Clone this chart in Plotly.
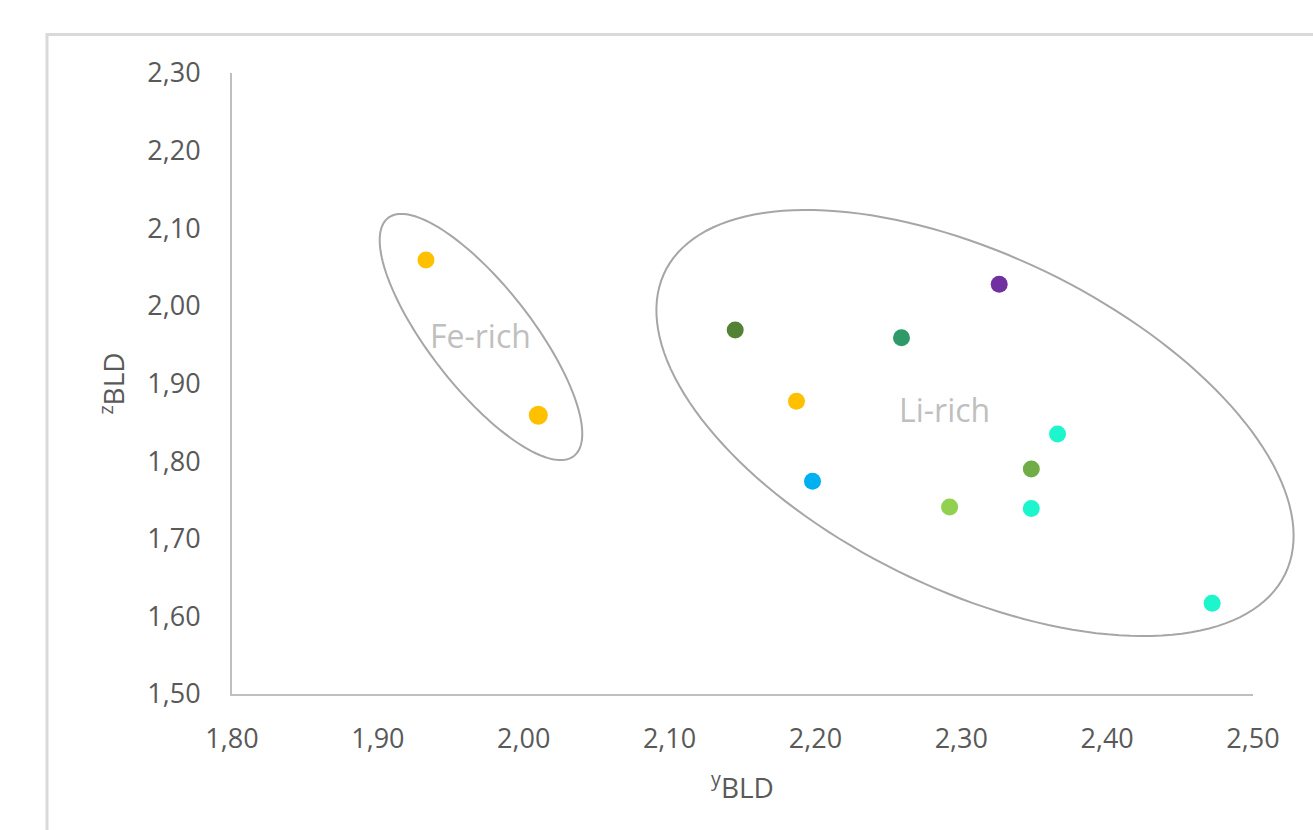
import numpy as np
import plotly.graph_objects as go

# Bond-length distortion values per sample
y_bld = [1.933, 2.010, 2.145, 2.187, 2.259, 2.326, 2.198, 2.292, 2.366, 2.348, 2.348, 2.472]
z_bld = [2.059, 1.859, 1.969, 1.877, 1.959, 2.028, 1.774, 1.741, 1.835, 1.790, 1.739, 1.617]
colors = ["#FFC000", "#FFC000", "#548235", "#FFC000", "#2E9A6A", "#7030A0",
          "#00B0F0", "#92D050", "#1DF5CC", "#70AD47", "#1DF5CC", "#1DF5CC"]
sizes = [17, 19, 17, 17, 17, 17, 17, 17, 17, 17, 17, 17]

x_ticks = [1.80, 1.90, 2.00, 2.10, 2.20, 2.30, 2.40, 2.50]
y_ticks = [1.50, 1.60, 1.70, 1.80, 1.90, 2.00, 2.10, 2.20, 2.30]

# Group outlines: centre (data), semi-axes in plot pixels, tilt in degrees
groups = [
    {"name": "Fe-rich", "cx": 1.9707, "cy": 1.9599, "a": 151, "b": 51, "tilt": 52,
     "lx": 1.9707, "ly": 1.962},
    {"name": "Li-rich", "cx": 2.3094, "cy": 1.8491, "a": 345, "b": 167, "tilt": 26,
     "lx": 2.2888, "ly": 1.866},
]

W, H = 1313, 830
ML, MR, MT, MB = 232, 60, 73, 136
x_rng = [1.80, 2.50]
y_rng = [1.50, 2.30]
PW, PH = W - ML - MR, H - MT - MB


def ellipse_path(g, n=160):
    # outline drawn in paper units so it may extend past the axes
    t = np.linspace(0, 2 * np.pi, n)
    th = np.radians(g["tilt"])
    dx = g["a"] * np.cos(t) * np.cos(th) - g["b"] * np.sin(t) * np.sin(th)
    dy = g["a"] * np.cos(t) * np.sin(th) + g["b"] * np.sin(t) * np.cos(th)
    cx = (g["cx"] - x_rng[0]) / (x_rng[1] - x_rng[0])
    cy = (g["cy"] - y_rng[0]) / (y_rng[1] - y_rng[0])
    xs = cx + dx / PW
    ys = cy - dy / PH
    pts = [f"{x:.5f},{y:.5f}" for x, y in zip(xs, ys)]
    return "M " + " L ".join(pts) + " Z"


fig = go.Figure()
fig.add_trace(go.Scatter(
    x=y_bld, y=z_bld, mode="markers",
    marker=dict(color=colors, size=sizes, opacity=1, line=dict(width=0)),
    showlegend=False, hoverinfo="x+y",
))

shapes = [
    dict(type="path", path=ellipse_path(g), xref="paper", yref="paper",
         line=dict(color="#A6A6A6", width=2), fillcolor="rgba(0,0,0,0)", layer="below")
    for g in groups
]
# chart border
shapes.append(dict(type="rect", xref="paper", yref="paper",
                   x0=(47 - ML) / PW, x1=1.2,
                   y0=-0.3, y1=1 + (MT - 34.5) / PH,
                   line=dict(color="#D9D9D9", width=3), layer="below"))

annotations = [
    dict(x=g["lx"], y=g["ly"], text=g["name"], showarrow=False,
         font=dict(size=32, color="#BFBFBF", family="Open Sans"),
         xref="x", yref="y")
    for g in groups
]

tick_font = dict(size=27, color="#595959", family="Open Sans")
title_font = dict(size=28, color="#595959", family="Open Sans")

fig.update_layout(
    width=W, height=H,
    margin=dict(l=ML, r=MR, t=MT, b=MB),
    plot_bgcolor="white", paper_bgcolor="white",
    font=dict(family="Open Sans", color="#595959"),
    shapes=shapes, annotations=annotations,
    xaxis=dict(range=x_rng, tickvals=x_ticks,
               ticktext=[f"{v:.2f}".replace(".", ",") for v in x_ticks],
               showgrid=False, zeroline=False, showline=True, linecolor="#BFBFBF", linewidth=2,
               ticks="", ticklabelstandoff=20, tickfont=tick_font,
               title=dict(text="<sup>y</sup>BLD", font=title_font, standoff=23)),
    yaxis=dict(range=y_rng, tickvals=y_ticks,
               ticktext=[f"{v:.2f}".replace(".", ",") for v in y_ticks],
               showgrid=False, zeroline=False, showline=True, linecolor="#BFBFBF", linewidth=2,
               ticks="", ticklabelstandoff=24, tickfont=tick_font,
               title=dict(text="<sup>z</sup>BLD", font=title_font, standoff=14)),
)

fig.write_html("out.html")
